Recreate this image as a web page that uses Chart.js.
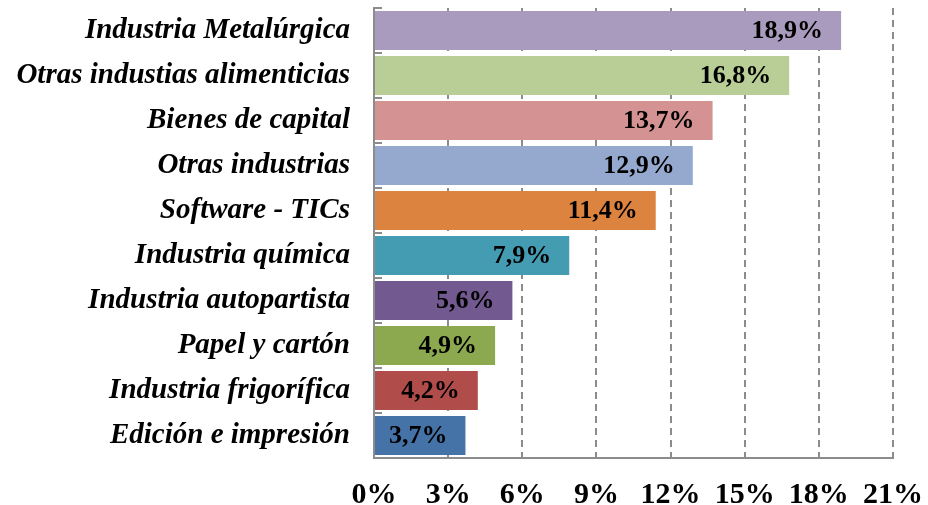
<!DOCTYPE html>
<html>
<head>
<meta charset="utf-8">
<script src="https://cdn.jsdelivr.net/npm/chart.js@4"></script>
<style>
  html, body { margin: 0; padding: 0; background: #fff; }
  .wrap { width: 928px; height: 505px; }
</style>
</head>
<body>
<div class="wrap"><canvas id="rubros"></canvas></div>
<script>
const categories = [
  'Industria Metalúrgica',
  'Otras industias alimenticias',
  'Bienes de capital',
  'Otras industrias',
  'Software - TICs',
  'Industria química',
  'Industria autopartista',
  'Papel y cartón',
  'Industria frigorífica',
  'Edición e impresión'
];
const shares = [18.9, 16.8, 13.7, 12.9, 11.4, 7.9, 5.6, 4.9, 4.2, 3.7];
const xTicks = [0, 3, 6, 9, 12, 15, 18, 21];

const barColors = [
  '#a99bbd', '#b9cd96', '#d49392', '#95a9cf', '#dd8340',
  '#449cb3', '#72598f', '#8da94f', '#b04c4a', '#4573a7'
];

const serif = '"Liberation Serif", "Times New Roman", serif';

// etiquetas dentro del extremo de cada barra
const valueLabels = {
  id: 'valueLabels',
  afterDatasetsDraw(chart) {
    const ctx = chart.ctx;
    const meta = chart.getDatasetMeta(0);
    ctx.save();
    ctx.font = 'bold 26px ' + serif;
    ctx.fillStyle = '#000';
    ctx.textAlign = 'right';
    ctx.textBaseline = 'middle';
    meta.data.forEach((bar, i) => {
      const txt = shares[i].toFixed(1).replace('.', ',') + '%';
      ctx.fillText(txt, bar.x - 18, bar.y + 1);
    });
    ctx.restore();
  }
};

// marcas cortas del eje de categorias, hacia dentro
const catMarks = {
  id: 'catMarks',
  afterDraw(chart) {
    const ctx = chart.ctx;
    const y = chart.scales.y;
    const step = y.getPixelForValue(1) - y.getPixelForValue(0);
    ctx.save();
    ctx.strokeStyle = '#8c8c8c';
    ctx.lineWidth = 2;
    ctx.beginPath();
    for (let i = 0; i <= categories.length; i++) {
      const py = Math.round(y.getPixelForValue(0) + (i - 0.5) * step);
      ctx.moveTo(y.right, py);
      ctx.lineTo(y.right + 8, py);
    }
    ctx.stroke();
    ctx.restore();
  }
};

new Chart(document.getElementById('rubros'), {
  type: 'bar',
  data: {
    labels: categories,
    datasets: [{
      data: shares,
      backgroundColor: barColors,
      borderWidth: 0,
      barPercentage: 0.87,
      categoryPercentage: 1
    }]
  },
  options: {
    indexAxis: 'y',
    responsive: true,
    maintainAspectRatio: false,
    animation: false,
    layout: { padding: { top: 8, right: 0, bottom: 0, left: 0 } },
    plugins: { legend: { display: false }, tooltip: { enabled: false } },
    scales: {
      x: {
        min: 0,
        max: 21,
        afterBuildTicks: s => { s.ticks = xTicks.map(v => ({ value: v })); },
        afterFit: s => { s.height = 47; s.paddingRight = 35; s.paddingLeft = 0; },
        grid: { color: '#8c8c8c', lineWidth: 2, drawTicks: false },
        border: { color: '#8c8c8c', width: 2, dash: [7, 5] },
        ticks: {
          padding: 19,
          color: '#000',
          font: { family: serif, size: 30, weight: 'bold' },
          callback: v => v + '%'
        }
      },
      y: {
        afterFit: s => { s.width = 374; s.paddingTop = 0; s.paddingBottom = 0; },
        grid: { display: false, drawTicks: false },
        border: { color: '#8c8c8c', width: 2 },
        ticks: {
          padding: 24,
          color: '#000',
          font: { family: serif, size: 29, weight: 'bold', style: 'italic' }
        }
      }
    }
  },
  plugins: [valueLabels, catMarks]
});
</script>
</body>
</html>
